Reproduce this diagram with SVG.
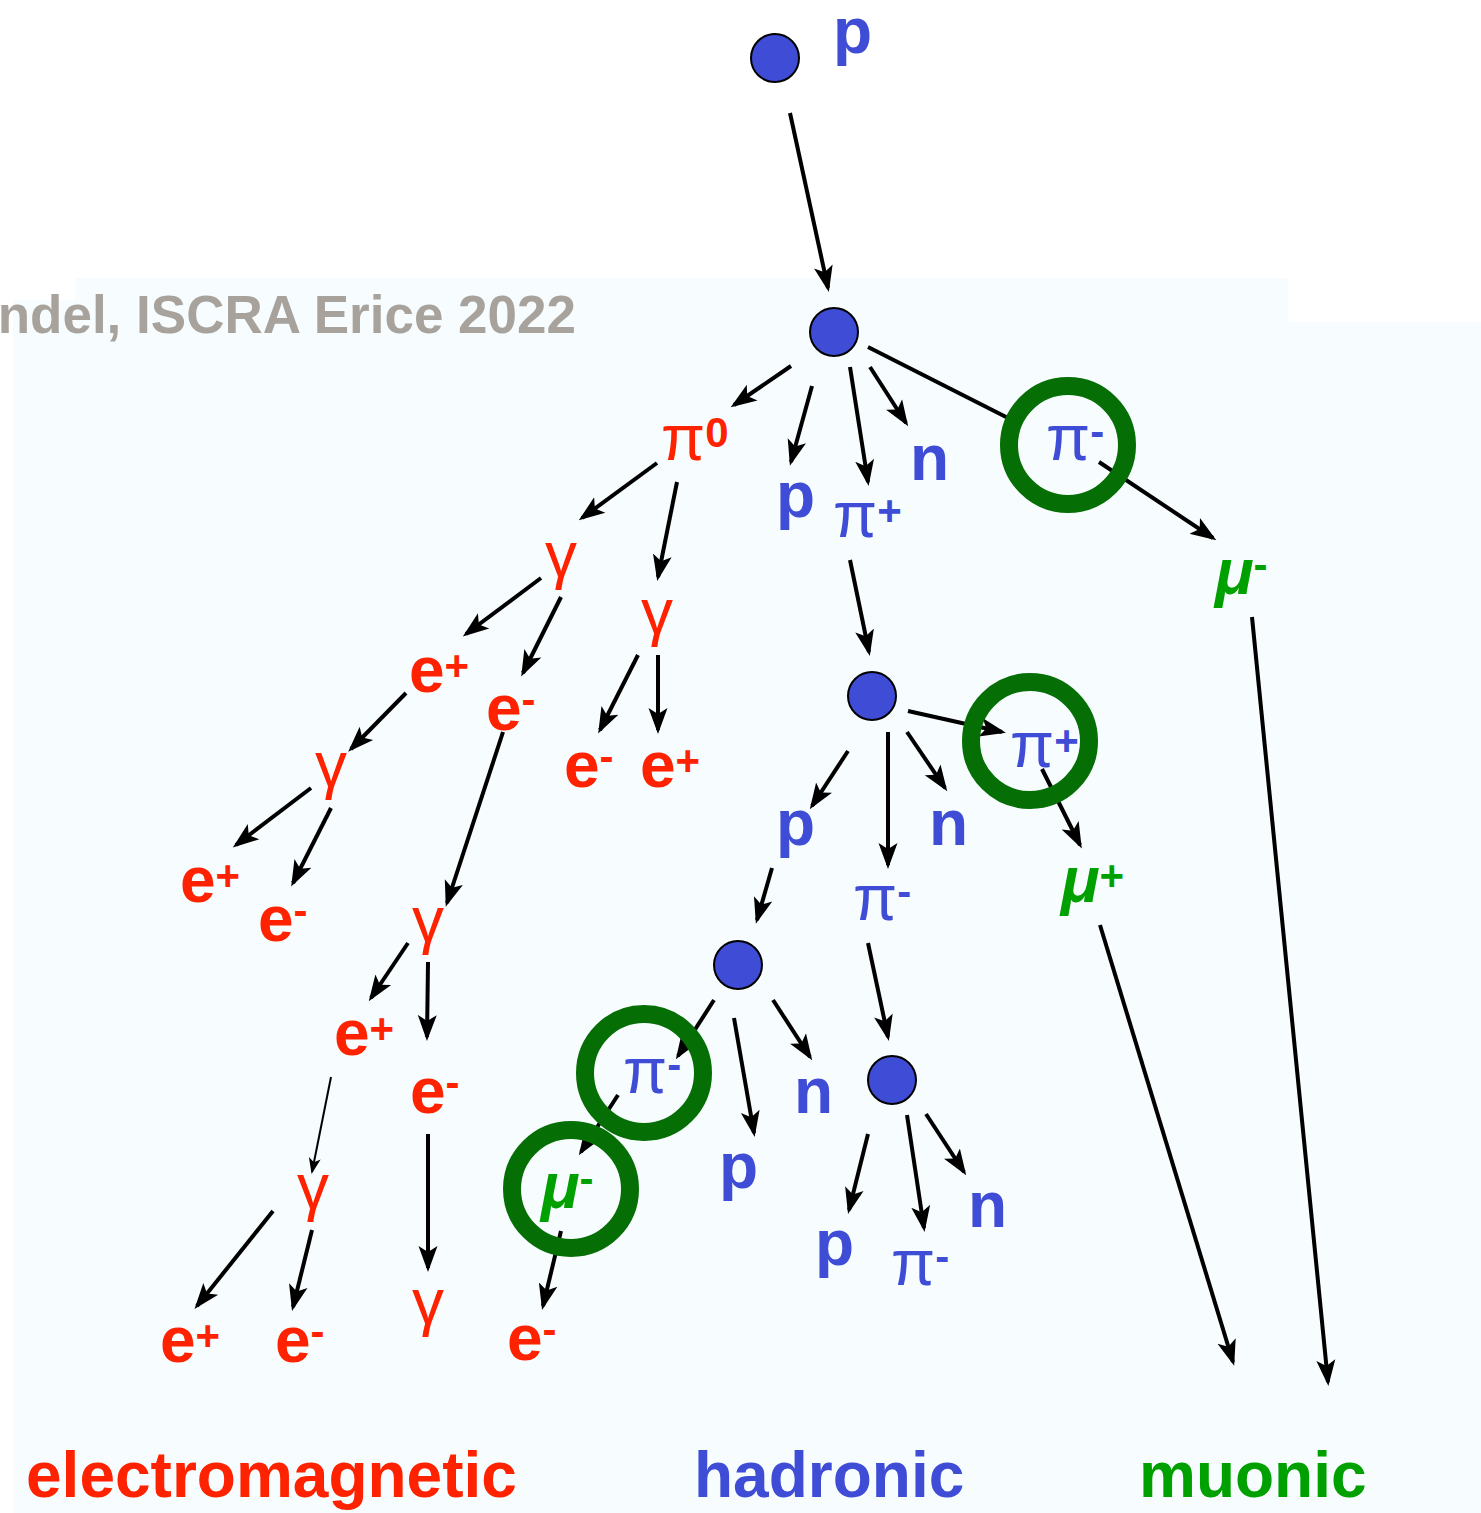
<svg xmlns="http://www.w3.org/2000/svg" width="1481" height="1513" viewBox="0 0 1481 1513">
<defs>
<marker id="ah" markerUnits="userSpaceOnUse" markerWidth="27" markerHeight="22" viewBox="0 0 27 22" refX="22" refY="11" orient="auto"><path d="M0,1.5 L26,11 L0,20.5 L6,11 Z" fill="#000"/></marker>
<marker id="ahs" markerUnits="userSpaceOnUse" markerWidth="17" markerHeight="14" viewBox="0 0 17 14" refX="14" refY="7" orient="auto"><path d="M0,1 L16,7 L0,13 L4,7 Z" fill="#000"/></marker>
<style>
text{font-family:"Liberation Sans",Arial,sans-serif;font-weight:bold;font-size:64px}
.b{fill:#3f4cd6}.r{fill:#ff2200}.g{fill:#00a000;font-style:italic}
.sym{font-weight:normal}
.sup{font-size:42px;font-weight:bold;font-style:normal}
.cat{font-size:64px}
.gray{fill:#a7a39c;font-size:53px}
.dot{fill:#3f4cd6;stroke:#000;stroke-width:2}
.ring{fill:none;stroke:#056e05;stroke-width:18}
#connectors line{stroke:#000;stroke-width:4;marker-end:url(#ah)}
#connectors line.nh{marker-end:none}
#connectors line.thin{stroke-width:2;marker-end:url(#ahs)}
</style>
</defs>
<rect width="1481" height="1513" fill="#fff"/>
<path d="M75,278 H1288 V322 H1481 V1513 H13 V300 H75 Z" fill="#f7fdfe"/>
<text class="gray" x="576" y="333" text-anchor="end">ndel, ISCRA Erice 2022</text>

<g id="connectors">
<line x1="790" y1="113" x2="828" y2="288"/>
<line x1="791" y1="366" x2="734" y2="405"/>
<line x1="812" y1="386" x2="791" y2="462"/>
<line x1="850" y1="367" x2="868" y2="482"/>
<line x1="870" y1="367" x2="906" y2="423"/>
<line class="nh" x1="868" y1="347" x2="1010" y2="419"/>
<line x1="1099" y1="462" x2="1213" y2="538"/>
<line x1="1252" y1="617" x2="1328" y2="1382"/>
<line x1="850" y1="560" x2="869" y2="652"/>
<line x1="908" y1="711" x2="1002" y2="732"/>
<line x1="848" y1="751" x2="812" y2="806"/>
<line x1="888" y1="732" x2="888" y2="865"/>
<line x1="907" y1="732" x2="945" y2="788"/>
<line x1="1042" y1="769" x2="1080" y2="845"/>
<line x1="1100" y1="925" x2="1233" y2="1362"/>
<line x1="772" y1="868" x2="757" y2="920"/>
<line x1="868" y1="943" x2="888" y2="1037"/>
<line x1="714" y1="1000" x2="678" y2="1056"/>
<line x1="734" y1="1018" x2="754" y2="1133"/>
<line x1="773" y1="1000" x2="810" y2="1057"/>
<line x1="618" y1="1095" x2="581" y2="1152"/>
<line x1="561" y1="1231" x2="543" y2="1306"/>
<line x1="868" y1="1134" x2="849" y2="1210"/>
<line x1="907" y1="1115" x2="924" y2="1228"/>
<line x1="926" y1="1114" x2="964" y2="1172"/>
<line x1="657" y1="463" x2="582" y2="518"/>
<line x1="677" y1="482" x2="658" y2="577"/>
<line x1="541" y1="578" x2="466" y2="634"/>
<line x1="561" y1="597" x2="523" y2="673"/>
<line x1="638" y1="655" x2="600" y2="730"/>
<line x1="658" y1="655" x2="658" y2="730"/>
<line x1="406" y1="693" x2="351" y2="749"/>
<line x1="503" y1="732" x2="447" y2="903"/>
<line x1="311" y1="788" x2="236" y2="845"/>
<line x1="331" y1="808" x2="293" y2="883"/>
<line x1="408" y1="943" x2="371" y2="998"/>
<line x1="428" y1="962" x2="427" y2="1037"/>
<line class="thin" x1="331" y1="1077" x2="312" y2="1172"/>
<line x1="428" y1="1134" x2="428" y2="1268"/>
<line x1="273" y1="1211" x2="197" y2="1306"/>
<line x1="312" y1="1230" x2="293" y2="1307"/>
</g>

<g id="node-p0"><circle class="dot" cx="775" cy="58" r="24"/><text class="b" x="833" y="53">p</text></g>
<g id="node-v1"><circle class="dot" cx="834" cy="332" r="24"/></g>
<g id="node-pi0"><text class="r" x="661" y="460"><tspan class="sym">π</tspan><tspan class="sup" dy="-13">0</tspan></text></g>
<g id="node-p1"><text class="b" x="776" y="517">p</text></g>
<g id="node-pip1"><text class="b" x="833" y="537"><tspan class="sym">π</tspan><tspan class="sup" dy="-12">+</tspan></text></g>
<g id="node-n1"><text class="b" x="910" y="480">n</text></g>
<g id="node-pim1"><text class="b" x="1046" y="460"><tspan class="sym">π</tspan><tspan class="sup" dy="-14">-</tspan></text><circle class="ring" cx="1068" cy="445" r="59"/></g>
<g id="node-mum1"><text class="g" x="1215" y="594">μ<tspan class="sup" dy="-15">-</tspan></text></g>
<g id="node-v2"><circle class="dot" cx="872" cy="696" r="24"/></g>
<g id="node-p2"><text class="b" x="776" y="845">p</text></g>
<g id="node-n2"><text class="b" x="929" y="845">n</text></g>
<g id="node-pip2"><text class="b" x="1010" y="767"><tspan class="sym">π</tspan><tspan class="sup" dy="-12">+</tspan></text><circle class="ring" cx="1030" cy="741" r="59"/></g>
<g id="node-mup"><text class="g" x="1061" y="902">μ<tspan class="sup" dy="-12">+</tspan></text></g>
<g id="node-pim2"><text class="b" x="853" y="920"><tspan class="sym">π</tspan><tspan class="sup" dy="-14">-</tspan></text></g>
<g id="node-v3"><circle class="dot" cx="738" cy="965" r="24"/></g>
<g id="node-pim3"><text class="b" x="623" y="1093"><tspan class="sym">π</tspan><tspan class="sup" dy="-14">-</tspan></text><circle class="ring" cx="644" cy="1073" r="59"/></g>
<g id="node-mum2"><text class="g" x="541" y="1208">μ<tspan class="sup" dy="-15">-</tspan></text><circle class="ring" cx="571" cy="1189" r="59"/></g>
<g id="node-em1"><text class="r" x="507" y="1360">e<tspan class="sup" dy="-16">-</tspan></text></g>
<g id="node-p3"><text class="b" x="719" y="1188">p</text></g>
<g id="node-n3"><text class="b" x="794" y="1113">n</text></g>
<g id="node-v4"><circle class="dot" cx="892" cy="1080" r="24"/></g>
<g id="node-p4"><text class="b" x="815" y="1265">p</text></g>
<g id="node-pim4"><text class="b" x="891" y="1285"><tspan class="sym">π</tspan><tspan class="sup" dy="-14">-</tspan></text></g>
<g id="node-n4"><text class="b" x="968" y="1227">n</text></g>

<g id="node-g1"><text class="r sym" x="545" y="577">γ</text></g>
<g id="node-g2"><text class="r sym" x="641" y="634">γ</text></g>
<g id="node-ep1"><text class="r" x="409" y="692">e<tspan class="sup" dy="-12">+</tspan></text></g>
<g id="node-em2"><text class="r" x="486" y="730">e<tspan class="sup" dy="-16">-</tspan></text></g>
<g id="node-em3"><text class="r" x="564" y="787">e<tspan class="sup" dy="-16">-</tspan></text></g>
<g id="node-ep2"><text class="r" x="640" y="787">e<tspan class="sup" dy="-12">+</tspan></text></g>
<g id="node-g3"><text class="r sym" x="315" y="787">γ</text></g>
<g id="node-ep3"><text class="r" x="180" y="902">e<tspan class="sup" dy="-12">+</tspan></text></g>
<g id="node-em4"><text class="r" x="258" y="941">e<tspan class="sup" dy="-16">-</tspan></text></g>
<g id="node-g4"><text class="r sym" x="412" y="942">γ</text></g>
<g id="node-ep4"><text class="r" x="334" y="1055">e<tspan class="sup" dy="-12">+</tspan></text></g>
<g id="node-em5"><text class="r" x="410" y="1113">e<tspan class="sup" dy="-16">-</tspan></text></g>
<g id="node-g5"><text class="r sym" x="297" y="1209">γ</text></g>
<g id="node-g6"><text class="r sym" x="412" y="1324">γ</text></g>
<g id="node-ep5"><text class="r" x="160" y="1362">e<tspan class="sup" dy="-12">+</tspan></text></g>
<g id="node-em6"><text class="r" x="275" y="1362">e<tspan class="sup" dy="-16">-</tspan></text></g>

<g id="legend">
<text class="r cat" x="26" y="1497">electromagnetic</text>
<text class="b cat" x="694" y="1497">hadronic</text>
<text class="cat" x="1139" y="1497" fill="#00a000">muonic</text>
</g>
</svg>
